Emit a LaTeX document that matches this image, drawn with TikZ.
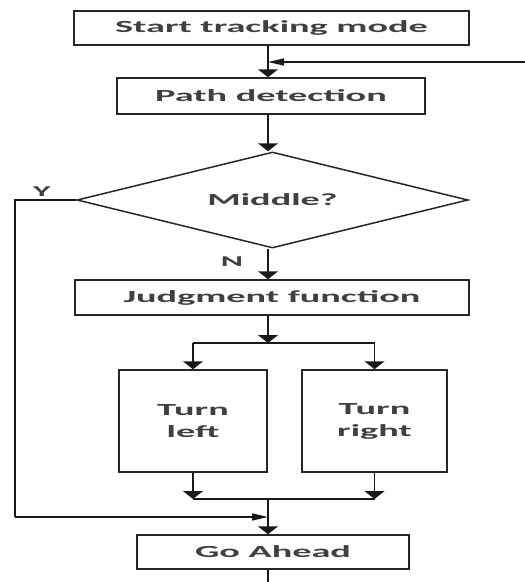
\documentclass[tikz,border=0pt]{standalone}
\usepackage{fontspec}
\usepackage{graphicx}
\setmainfont{Carlito}
\usetikzlibrary{arrows.meta,shapes.geometric}
\newcommand{\wtxt}[1]{\scalebox{2.25}[1]{#1}}
\tikzset{
  box/.style={draw=black!85, line width=1.5pt, rectangle, inner sep=0pt, text=black!75,
    font=\fontsize{17}{22}\bfseries\selectfont, align=center},
  lbl/.style={text=black!75, font=\fontsize{15}{18}\bfseries\selectfont, inner sep=0pt},
  ln/.style={draw=black!90, line width=1.6pt},
  varr/.style={ln, -{Triangle[width=20pt,length=8pt]}},
  harr/.style={ln, -{Triangle[width=7pt,length=16pt]}},
}
\begin{document}
\begin{tikzpicture}[x=1pt,y=1pt]
\useasboundingbox (0,-582) rectangle (525,0);
\coordinate (mx) at (268,0);
\node[box, minimum width=395pt, minimum height=34pt] (start) at (271.5,-28) {\wtxt{Start tracking mode}};
\node[box, minimum width=308pt, minimum height=36pt] (path) at (271,-96) {\wtxt{Path detection}};
\node[box, diamond, aspect=4.07, minimum width=391pt, minimum height=96pt] (mid) at (272.5,-200) {\wtxt{Middle?}};
\node[box, minimum width=394pt, minimum height=35pt] (judge) at (272,-297.5) {\wtxt{Judgment function}};
\node[box, minimum width=148pt, minimum height=102pt] (left) at (193,-421) {\wtxt{Turn}\\\wtxt{left}};
\node[box, minimum width=145pt, minimum height=102pt] (right) at (374.5,-421) {\wtxt{Turn}\\\wtxt{right}};
\node[box, minimum width=272pt, minimum height=34pt] (go) at (273,-552) {\wtxt{Go Ahead}};
\node[lbl] (ylab) at (42,-192) {\wtxt{Y}};
\node[lbl] (nlab) at (232,-262) {\wtxt{N}};
\coordinate (fb) at (525,-62);
\coordinate (ycorner) at (15,-200);
\coordinate (ybot) at (15,-517);
\coordinate (split) at (268,-343);
\coordinate (merge) at (268,-499);
\coordinate (bottom) at (268,-582);
% main flow
\draw[varr] (start.south -| mx) -- (path.north -| mx);
\draw[harr] (fb) -- (fb -| mx);
\draw[varr] (path.south -| mx) -- (mid.north -| mx);
\draw[varr] (mid.south -| mx) -- (judge.north -| mx);
\draw[varr] (judge.south -| mx) -- (split);
\draw[ln] (split -| left.north) -- (split -| right.north);
\draw[varr] (split -| left.north) -- (left.north);
\draw[varr] (split -| right.north) -- (right.north);
\draw[varr] (left.south) -- (merge -| left.south);
\draw[varr] (right.south) -- (merge -| right.south);
\draw[ln] (merge -| left.south) -- (merge -| right.south);
\draw[varr] (merge) -- (go.north -| mx);
\draw[ln] (go.south -| mx) -- (bottom);
% Y branch
\draw[ln] (mid.west) -- (ycorner) -- (ybot);
\draw[harr] (ybot) -- (ybot -| mx);
\end{tikzpicture}
\end{document}
